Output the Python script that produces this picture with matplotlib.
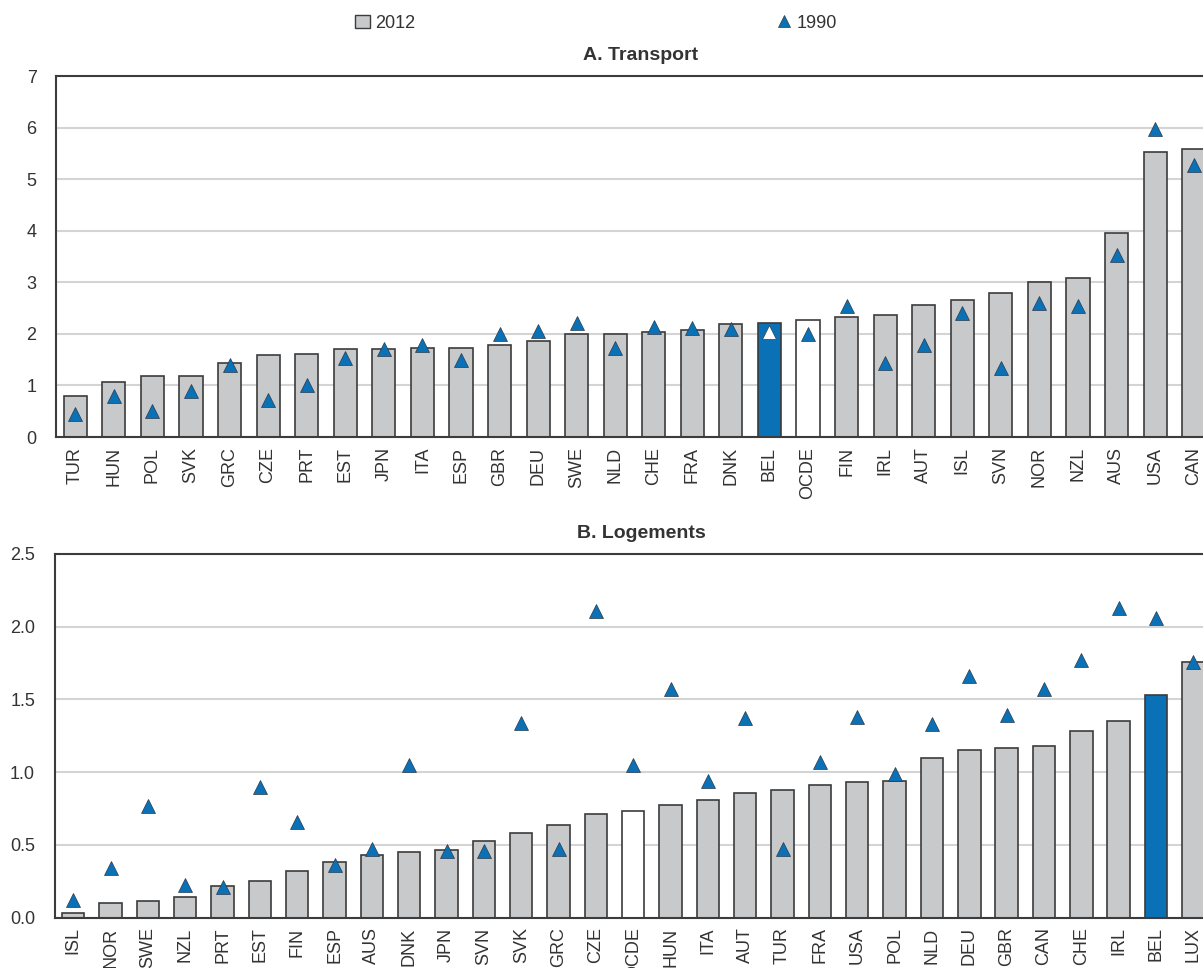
import matplotlib
matplotlib.use('Agg')
import matplotlib.pyplot as plt
from matplotlib import font_manager
from matplotlib.lines import Line2D
from matplotlib.patches import Patch

names = {f.name for f in font_manager.fontManager.ttflist}
fam = 'Liberation Sans Narrow' if 'Liberation Sans Narrow' in names else 'Liberation Sans'
plt.rcParams['font.family'] = [fam, 'DejaVu Sans']

# Panel A - transport
top_countries = ['TUR', 'HUN', 'POL', 'SVK', 'GRC', 'CZE', 'PRT', 'EST', 'JPN', 'ITA',
                 'ESP', 'GBR', 'DEU', 'SWE', 'NLD', 'CHE', 'FRA', 'DNK', 'BEL', 'OCDE',
                 'FIN', 'IRL', 'AUT', 'ISL', 'SVN', 'NOR', 'NZL', 'AUS', 'USA', 'CAN']
top_2012 = [0.80, 1.07, 1.19, 1.19, 1.43, 1.59, 1.60, 1.70, 1.71, 1.72,
            1.73, 1.79, 1.87, 1.99, 2.00, 2.03, 2.08, 2.20, 2.22, 2.26,
            2.33, 2.36, 2.55, 2.65, 2.79, 3.01, 3.09, 3.96, 5.53, 5.59]
top_1990 = [0.44, 0.79, 0.51, 0.90, 1.40, 0.71, 1.00, 1.53, 1.71, 1.78,
            1.49, 1.99, 2.05, 2.21, 1.72, 2.14, 2.12, 2.09, 2.03, 2.00,
            2.54, 1.43, 1.79, 2.40, 1.34, 2.60, 2.54, 3.52, 5.97, 5.28]

# Panel B - logements
bot_countries = ['ISL', 'NOR', 'SWE', 'NZL', 'PRT', 'EST', 'FIN', 'ESP', 'AUS', 'DNK',
                 'JPN', 'SVN', 'SVK', 'GRC', 'CZE', 'OCDE', 'HUN', 'ITA', 'AUT', 'TUR',
                 'FRA', 'USA', 'POL', 'NLD', 'DEU', 'GBR', 'CAN', 'CHE', 'IRL', 'BEL', 'LUX']
bot_2012 = [0.03, 0.10, 0.115, 0.14, 0.22, 0.25, 0.32, 0.385, 0.43, 0.45,
            0.465, 0.53, 0.58, 0.64, 0.71, 0.73, 0.775, 0.81, 0.855, 0.875,
            0.91, 0.935, 0.94, 1.10, 1.155, 1.165, 1.18, 1.28, 1.355, 1.53, 1.76]
bot_1990 = [0.12, 0.34, 0.77, 0.225, 0.21, 0.90, 0.66, 0.36, 0.47, 1.05,
            0.46, 0.46, 1.34, 0.47, 2.11, 1.05, 1.57, 0.94, 1.37, 0.475,
            1.07, 1.38, 0.985, 1.33, 1.66, 1.39, 1.57, 1.77, 2.13, 2.06, 1.755]

GREY = '#c8c9cb'
BLUE = '#0b71b6'
EDGE = '#3c3c3c'
TXT = '#333333'

fig = plt.figure(figsize=(12.03, 9.68), dpi=100)


def panel(rect, countries, v2012, v1990, ymax, yticks, fmt, title, title_y, bel_tri_white):
    ax = fig.add_axes(rect)
    x = list(range(len(countries)))
    cols = []
    for c in countries:
        if c == 'BEL':
            cols.append(BLUE)
        elif c == 'OCDE':
            cols.append('white')
        else:
            cols.append(GREY)
    ax.bar(x, v2012, width=0.6, color=cols, edgecolor=EDGE, linewidth=1.2, zorder=2)
    for i, c in enumerate(countries):
        fc = 'white' if (c == 'BEL' and bel_tri_white) else BLUE
        ax.plot(i, v1990[i], marker='^', ms=10, mfc=fc, mec='#2a3a4a', mew=0.5,
                linestyle='none', zorder=3)
    ax.set_xlim(-0.5, len(countries) - 0.5)
    ax.set_ylim(0, ymax)
    ax.set_yticks(yticks)
    ax.set_yticklabels([fmt.format(t) for t in yticks], fontsize=13, color=TXT)
    ax.set_xticks(x)
    ax.set_xticklabels(countries, rotation=90, fontsize=13, color=TXT)
    ax.tick_params(axis='both', length=0)
    ax.tick_params(axis='y', pad=14)
    ax.tick_params(axis='x', pad=7)
    ax.grid(axis='y', color='#d4d4d4', linewidth=1.5, zorder=0)
    ax.set_axisbelow(True)
    for s in ['left', 'bottom', 'top']:
        ax.spines[s].set_color(EDGE)
        ax.spines[s].set_linewidth(1.5)
    ax.spines['right'].set_visible(False)
    fig.text(641 / 1203, title_y, title, ha='center', va='center',
             fontsize=14, fontweight='bold', color=TXT)
    return ax


panel([56 / 1203, 1 - 437 / 968, 1157 / 1203, 361 / 968],
      top_countries, top_2012, top_1990, 7, list(range(8)), '{:.0f}',
      'A. Transport', 1 - 55 / 968, True)
panel([54.5 / 1203, 1 - 917.7 / 968, 1157.5 / 1203, 363.7 / 968],
      bot_countries, bot_2012, bot_1990, 2.5, [0, 0.5, 1.0, 1.5, 2.0, 2.5], '{:.1f}',
      'B. Logements', 1 - 533 / 968, False)

handles = [Patch(facecolor=GREY, edgecolor=EDGE, linewidth=1.0),
           Line2D([], [], marker='^', ms=9, mfc=BLUE, mec='#2a3a4a', mew=0.5, linestyle='none')]
fig.legend(handles, ['2012', '1990'], loc='center', bbox_to_anchor=(596 / 1203, 1 - 23 / 968),
           ncol=2, frameon=False, fontsize=13, columnspacing=20, handlelength=0.8,
           handletextpad=0.3, labelcolor=TXT)

fig.savefig('out.png', dpi=100)
